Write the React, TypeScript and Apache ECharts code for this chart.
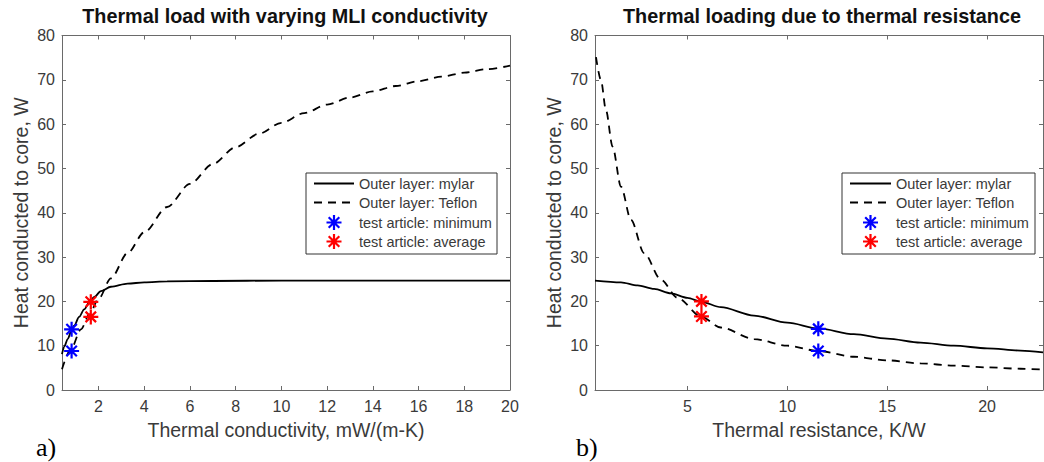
import React, { useEffect, useRef } from "react";
import * as echarts from "echarts";

// ---------- data ----------
const yTicks = [0, 10, 20, 30, 40, 50, 60, 70, 80];
const leftXTicks = [2, 4, 6, 8, 10, 12, 14, 16, 18, 20];
const rightXTicks = [5, 10, 15, 20];

const legendLabels = [
  "Outer layer: mylar",
  "Outer layer: Teflon",
  "test article: minimum",
  "test article: average",
];

// (a) conductivity [mW/(m-K)] vs heat [W]
const leftMylar: number[][] = [
  [0.4, 8.1], [0.5, 9.8], [0.65, 11.5], [0.8, 13.2], [0.93, 14.5], [1.15, 16.5],
  [1.37, 18.2], [1.6, 19.8], [1.81, 21.0], [2.1, 22.3], [2.54, 23.3], [3.27, 24.0],
  [4.0, 24.3], [5.0, 24.5], [7.0, 24.6], [10, 24.7], [14, 24.7], [20, 24.7],
];
const leftTeflon: number[][] = [
  [0.4, 4.7], [0.79, 9.2], [1.23, 13.7], [1.59, 17.0], [2.0, 20.6], [2.54, 25.2],
  [3.27, 30.9], [4.0, 35.6], [5.0, 41.3], [6.0, 46.5], [7.0, 51.0], [8.0, 54.8],
  [9.0, 57.8], [10.0, 60.3], [11.0, 62.5], [12.0, 64.4], [13.0, 66.0], [14.0, 67.4],
  [15.0, 68.6], [16.0, 69.7], [17.0, 70.7], [18.0, 71.6], [19.0, 72.4], [20.0, 73.2],
];
const leftMinimum: number[][] = [[0.82, 13.7], [0.82, 8.8]];
const leftAverage: number[][] = [[1.66, 19.9], [1.66, 16.5]];

// (b) thermal resistance [K/W] vs heat [W]
const rightMylar: number[][] = [
  [0.37, 24.7], [1.67, 24.3], [2.5, 23.6], [3.33, 22.8], [4.17, 21.8], [5.0, 20.8],
  [5.7, 19.9], [6.67, 18.7], [8.33, 16.8], [10.0, 15.2], [11.55, 13.9], [13.33, 12.6],
  [15.0, 11.6], [16.67, 10.7], [18.33, 10.0], [20.0, 9.4], [21.67, 8.9], [22.8, 8.5],
];
const rightTeflon: number[][] = [
  [0.42, 75.1], [0.67, 69.9], [0.92, 63.1], [1.25, 54.9], [1.67, 45.9], [2.17, 38.4],
  [2.83, 30.9], [3.67, 24.9], [4.5, 20.8], [5.7, 16.5], [6.67, 14.1], [8.33, 11.5],
  [10.0, 10.0], [11.55, 8.8], [13.33, 7.5], [15.0, 6.7], [16.67, 6.0], [18.33, 5.5],
  [20.0, 5.1], [21.67, 4.8], [22.8, 4.6],
];
const rightMinimum: number[][] = [[11.55, 13.8], [11.55, 8.8]];
const rightAverage: number[][] = [[5.7, 20.0], [5.7, 16.6]];

// ---------- styling ----------
const FONT = "'Liberation Sans', Arial, Helvetica, sans-serif";
const AXIS_COLOR = "#6a6a6a";
const LABEL_COLOR = "#3a3a3a";
const ASTERISK =
  "path://M8,0L8,16M0,8L16,8M2.4,2.4L13.6,13.6M2.4,13.6L13.6,2.4";

echarts.graphic.registerShape(
  "asterisk",
  echarts.graphic.extendPath(
    "M0,-7.5L0,7.5M-7.5,0L7.5,0M-5.3,-5.3L5.3,5.3M-5.3,5.3L5.3,-5.3",
    {}
  )
);

const grids = [
  { left: 62, top: 35.5, width: 448, height: 354.5 },
  { left: 595, top: 35.5, width: 448, height: 354.5 },
];

function xAxes(gridIndex: number, min: number, max: number, ticks: number[], name: string) {
  const common = {
    type: "value",
    gridIndex,
    min,
    max,
    splitLine: { show: false },
    axisLine: { show: true, onZero: false, lineStyle: { color: AXIS_COLOR, width: 1 } },
    axisTick: {
      show: true,
      inside: true,
      length: 4,
      customValues: ticks,
      lineStyle: { color: AXIS_COLOR, width: 1 },
    },
  };
  return [
    {
      ...common,
      position: "bottom",
      name,
      nameLocation: "middle",
      nameGap: 30,
      nameTextStyle: { fontFamily: FONT, fontSize: 19.5, color: LABEL_COLOR },
      axisLabel: {
        show: true,
        customValues: ticks,
        fontFamily: FONT,
        fontSize: 16,
        color: LABEL_COLOR,
        margin: 8,
      },
    },
    { ...common, position: "top", axisLabel: { show: false } },
  ];
}

function yAxes(gridIndex: number) {
  const common = {
    type: "value",
    gridIndex,
    min: 0,
    max: 80,
    interval: 10,
    splitLine: { show: false },
    axisLine: { show: true, onZero: false, lineStyle: { color: AXIS_COLOR, width: 1 } },
    axisTick: {
      show: true,
      inside: true,
      length: 4,
      lineStyle: { color: AXIS_COLOR, width: 1 },
    },
  };
  return [
    {
      ...common,
      position: "left",
      name: "Heat conducted to core, W",
      nameLocation: "middle",
      nameGap: 31,
      nameTextStyle: { fontFamily: FONT, fontSize: 19.5, color: LABEL_COLOR },
      axisLabel: {
        show: true,
        customValues: yTicks,
        fontFamily: FONT,
        fontSize: 16,
        color: LABEL_COLOR,
        margin: 7,
      },
    },
    { ...common, position: "right", axisLabel: { show: false } },
  ];
}

function seriesFor(
  xIdx: number,
  yIdx: number,
  mylar: number[][],
  teflon: number[][],
  minimum: number[][],
  average: number[][]
) {
  const line = (name: string, data: number[][], dashed: boolean) => ({
    type: "line",
    name,
    xAxisIndex: xIdx,
    yAxisIndex: yIdx,
    data,
    smooth: 0.3,
    smoothMonotone: "x",
    showSymbol: false,
    symbol: "none",
    clip: true,
    lineStyle: { color: "#000", width: 1.8, type: dashed ? [8, 6] : "solid" },
    z: 3,
  });
  const scatter = (name: string, data: number[][], color: string) => ({
    type: "scatter",
    name,
    xAxisIndex: xIdx,
    yAxisIndex: yIdx,
    data,
    symbol: ASTERISK,
    symbolSize: 15,
    itemStyle: { color, borderColor: color, borderWidth: 2.2, opacity: 1 },
    z: 5,
  });
  return [
    line(legendLabels[0], mylar, false),
    line(legendLabels[1], teflon, true),
    scatter(legendLabels[2], minimum, "#0000ff"),
    scatter(legendLabels[3], average, "#ff0000"),
  ];
}

function legendGraphic(bx: number, by: number, bw: number, bh: number, lineX1: number, lineX2: number, textX: number) {
  const rowsY = [by + 10.5, by + 29.5, by + 49.5, by + 68.5];
  const mx = (lineX1 + lineX2) / 2;
  const els: any[] = [
    {
      type: "rect",
      z: 100,
      shape: { x: bx, y: by, width: bw, height: bh },
      style: { fill: "#fff", stroke: "#333", lineWidth: 1 },
    },
    {
      type: "line",
      z: 101,
      shape: { x1: lineX1, y1: rowsY[0], x2: lineX2, y2: rowsY[0] },
      style: { stroke: "#000", lineWidth: 1.8 },
    },
    {
      type: "line",
      z: 101,
      shape: { x1: lineX1, y1: rowsY[1], x2: lineX2, y2: rowsY[1] },
      style: { stroke: "#000", lineWidth: 1.8, lineDash: [8, 6] },
    },
    {
      type: "asterisk",
      z: 101,
      x: mx,
      y: rowsY[2],
      style: { stroke: "#0000ff", lineWidth: 2.2, fill: "none" },
    },
    {
      type: "asterisk",
      z: 101,
      x: mx,
      y: rowsY[3],
      style: { stroke: "#ff0000", lineWidth: 2.2, fill: "none" },
    },
  ];
  legendLabels.forEach((t, i) => {
    els.push({
      type: "text",
      z: 101,
      x: textX,
      y: rowsY[i],
      style: {
        text: t,
        font: `14.5px ${FONT}`,
        fill: LABEL_COLOR,
        align: "left",
        verticalAlign: "middle",
        textAlign: "left",
        textVerticalAlign: "middle",
      },
    });
  });
  return els;
}

export default function App() {
  const ref = useRef<HTMLDivElement>(null);
  useEffect(() => {
    if (!ref.current) return;
    const chart = echarts.init(ref.current, null, { renderer: "svg" });
    const option: any = {
      animation: false,
      backgroundColor: "#ffffff",
      title: [
        {
          text: "Thermal load with varying MLI conductivity",
          left: 285,
          top: 6,
          padding: 0,
          textAlign: "center",
          textStyle: { fontFamily: FONT, fontSize: 19.8, fontWeight: "bold", color: "#111" },
        },
        {
          text: "Thermal loading due to thermal resistance",
          left: 822,
          top: 6,
          padding: 0,
          textAlign: "center",
          textStyle: { fontFamily: FONT, fontSize: 19.8, fontWeight: "bold", color: "#111" },
        },
      ],
      grid: grids,
      xAxis: [
        ...xAxes(0, 0.4, 20, leftXTicks, "Thermal conductivity, mW/(m-K)"),
        ...xAxes(1, 0.37, 22.8, rightXTicks, "Thermal resistance, K/W"),
      ],
      yAxis: [...yAxes(0), ...yAxes(1)],
      series: [
        ...seriesFor(0, 0, leftMylar, leftTeflon, leftMinimum, leftAverage),
        ...seriesFor(2, 2, rightMylar, rightTeflon, rightMinimum, rightAverage),
      ],
      graphic: [
        ...legendGraphic(306, 173, 191, 81, 314, 354, 359),
        ...legendGraphic(842, 173, 193, 81, 850, 891, 896),
        {
          type: "text",
          x: 36,
          y: 447,
          style: {
            text: "a)",
            font: "26px 'Liberation Serif', 'Times New Roman', serif",
            fill: "#000",
            align: "left",
            verticalAlign: "middle",
            textAlign: "left",
            textVerticalAlign: "middle",
          },
        },
        {
          type: "text",
          x: 576,
          y: 447,
          style: {
            text: "b)",
            font: "26px 'Liberation Serif', 'Times New Roman', serif",
            fill: "#000",
            align: "left",
            verticalAlign: "middle",
            textAlign: "left",
            textVerticalAlign: "middle",
          },
        },
      ],
    };
    chart.setOption(option);
    return () => chart.dispose();
  }, []);
  return (
    <div
      ref={ref}
      style={{ position: "absolute", left: 0, top: 0, width: 1044, height: 462, background: "#fff" }}
    />
  );
}
